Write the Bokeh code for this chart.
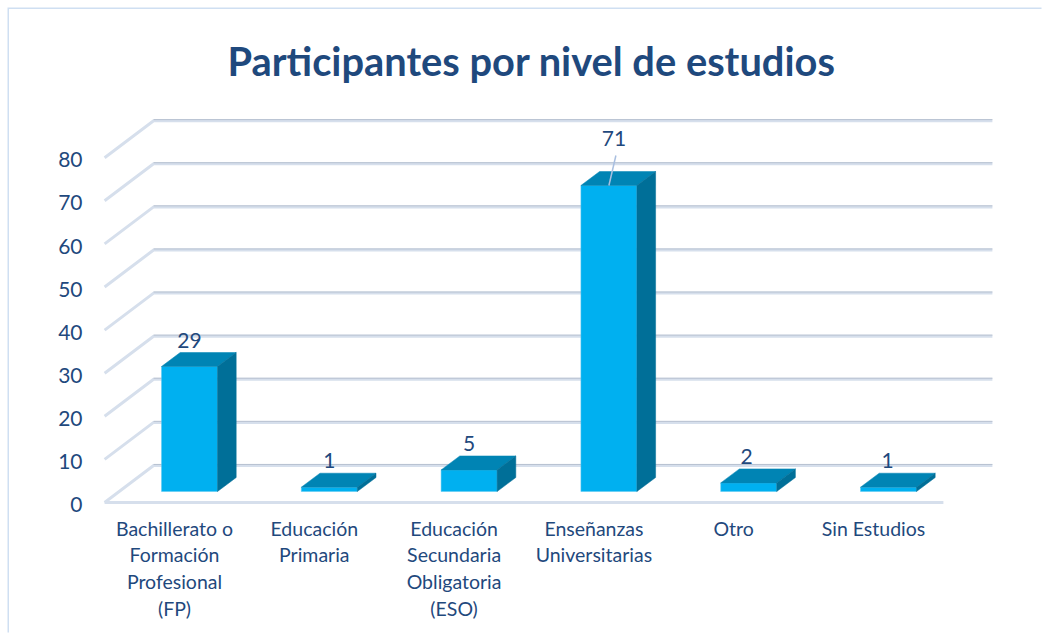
from bokeh.plotting import figure
from bokeh.models import Range1d, FixedTicker, Title
from bokeh.core.properties import value
from bokeh.embed import file_html
from bokeh.resources import INLINE

# data
categories = ["Bachillerato o\nFormación\nProfesional\n(FP)", "Educación\nPrimaria",
              "Educación\nSecundaria\nObligatoria\n(ESO)", "Enseñanzas\nUniversitarias",
              "Otro", "Sin Estudios"]
values = [29, 1, 5, 71, 2, 1]
y_ticks = [0, 10, 20, 30, 40, 50, 60, 70, 80]
title_text = "Participantes por nivel de estudios"

# oblique projection, in data units
px_x, px_y = 139.8, 4.31
wall_dx, wall_dy = 49 / px_x, 37 / px_y
wall_end = 5.5 + 49 / px_x + 0.0
bar_w = 56 / px_x
bar_cx = 15 / px_x
bar_base = 11 / px_y
bar_dx, bar_dy = 18.7 / px_x, 14 / px_y
tick_nudge = 0.5  # y labels sit slightly under their wall line

NAVY = "#1F497D"
p = figure(width=1034, height=625, margin=(9, 0, 0, 9), output_backend="svg", toolbar_location=None,
           x_range=Range1d(-74 / px_x, 869 / px_x), y_range=Range1d(-4 / px_y, 404 / px_y),
           min_border_left=91, min_border_right=0, min_border_top=89, min_border_bottom=128,
           outline_line_color=None, background_fill_color="white", border_fill_color="white",
           x_axis_type="linear", y_axis_type="linear")
p.styles = {"box-shadow": "-1.5px -1.5px 0 0 #CFDFF2"}
p.grid.visible = False

t = Title(text=title_text, align="left", offset=127, text_font="Lato", text_font_style="bold",
          text_font_size="39.8px", text_color=NAVY, standoff=29)
p.title = t

ax = p.xaxis[0]
ax.ticker = FixedTicker(ticks=list(range(len(categories))))
ax.major_label_overrides = {i: c for i, c in enumerate(categories)}
ax.axis_line_color = None
ax.major_tick_line_color = None
ax.minor_tick_line_color = None
ax.major_label_text_font = "Lato"
ax.major_label_text_font_size = "19.5px"
ax.major_label_text_color = NAVY
ax.major_label_text_line_height = 1.16
ax.major_label_standoff = 4

ay = p.yaxis[0]
ay.ticker = FixedTicker(ticks=[v - tick_nudge for v in y_ticks])
ay.major_label_overrides = {v - tick_nudge: str(v) for v in y_ticks}
ay.axis_line_color = None
ay.major_tick_line_color = None
ay.minor_tick_line_color = None
ay.major_label_text_font = "Lato"
ay.major_label_text_font_size = "21px"
ay.major_label_text_color = NAVY
ay.major_label_standoff = 12

# walls
xs = [[-0.5, -0.5 + wall_dx, wall_end] for _ in y_ticks]
ys = [[v, v + wall_dy, v + wall_dy] for v in y_ticks]
p.multi_line(xs, ys, line_color="#D6DFEC", line_width=3)
p.multi_line([x[1:] for x in xs], [[a + 0.25 for a in y[1:]] for y in ys], line_color="#B7C1D0", line_width=1)
p.line([-0.5, 5.5], [0, 0], line_color="#D6DFEC", line_width=3)

# bars
n = len(values)
left = [i + bar_cx - bar_w / 2 for i in range(n)]
right = [i + bar_cx + bar_w / 2 for i in range(n)]
top = [bar_base + v for v in values]
p.quad(left=left, right=right, bottom=bar_base, top=top, fill_color="#00B0F0", line_color="#5CC8F0", line_width=0.5)
p.patches([[l, r, r + bar_dx, l + bar_dx] for l, r in zip(left, right)],
          [[t_, t_, t_ + bar_dy, t_ + bar_dy] for t_ in top],
          fill_color="#0084B4", line_color="#0084B4", line_width=0.5)
p.patches([[r, r + bar_dx, r + bar_dx, r] for r in right],
          [[bar_base, bar_base + bar_dy, t_ + bar_dy, t_] for t_ in top],
          fill_color="#006F98", line_color="#006F98", line_width=0.5)

# value labels
label_shift = [0, 0, 0, 5, -2, -1]
lift = [26, 27, 26, 47, 26, 27]
p.text([i + bar_cx + s / px_x for i, s in enumerate(label_shift)],
       [t_ + l / px_y for t_, l in zip(top, lift)],
       text=[str(v) for v in values], text_align="center", text_baseline="middle",
       text_font=value("Lato"), text_font_size="21px", text_color=NAVY)
i71 = values.index(71)
p.line([i71 + bar_cx, i71 + bar_cx + 7 / px_x], [top[i71], top[i71] + 30 / px_y],
       line_color="#A9BFE0", line_width=1.5)

open("out.html", "w").write(file_html(p, INLINE))
